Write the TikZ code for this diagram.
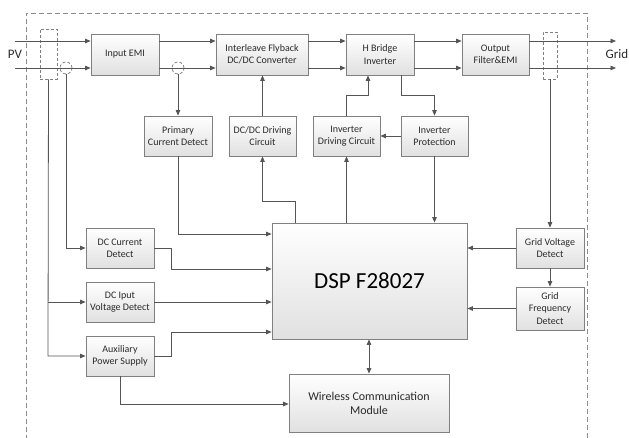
\documentclass[tikz,border=0pt]{standalone}
\usepackage{fontspec}
\setmainfont{Carlito}
\usetikzlibrary{arrows.meta}
\definecolor{ln}{HTML}{555555}
\definecolor{bd}{HTML}{808080}
\definecolor{tx}{HTML}{2A2A2A}
\tikzset{
  blk/.style={draw=bd, line width=0.8pt, top color=white, bottom color=black!12,
    align=center, inner sep=1pt, font=\fontsize{10}{12.3}\selectfont, text=tx},
  arr/.style={draw=ln, line width=0.8pt, -{Triangle[length=5.5pt,width=4.5pt]}},
  ln/.style={draw=ln, line width=0.8pt},
  dbarr/.style={draw=ln, line width=0.8pt, {Triangle[length=5.5pt,width=4.5pt]}-{Triangle[length=5.5pt,width=4.5pt]}},
  sens/.style={draw=bd, line width=0.8pt, dash pattern=on 3pt off 2pt},
}
\begin{document}
\begin{tikzpicture}[x=1pt,y=-1pt]
\useasboundingbox (0,0) rectangle (629,438);
% outer dashed frame
\draw[draw=black!45, line width=0.8pt, dash pattern=on 5pt off 3pt] (26,440) -- (26,13) -- (587,13) -- (587,440);

% blocks
\node[blk, minimum width=68pt, minimum height=41pt] (iemi) at (125,54.5) {Input EMI};
\node[blk, minimum width=92pt, minimum height=41pt] (flyb) at (262,54.5) {Interleave Flyback\\DC/DC Converter};
\node[blk, minimum width=68pt, minimum height=41pt] (hbr) at (380,54.5) {H Bridge\\Inverter};
\node[blk, minimum width=67pt, minimum height=41pt] (ofil) at (495.5,54.5) {Output\\Filter\&EMI};
\node[blk, minimum width=68pt, minimum height=40pt] (pcd) at (178,136) {Primary\\Current Detect};
\node[blk, minimum width=67pt, minimum height=40pt] (ddc) at (262.5,136) {DC/DC Driving\\Circuit};
\node[blk, minimum width=67pt, minimum height=40pt] (idc) at (346.5,136) {Inverter\\Driving Circuit};
\node[blk, minimum width=67pt, minimum height=40pt] (iprot) at (434.5,136) {Inverter\\Protection};
\node[blk, minimum width=195pt, minimum height=116pt, font=\fontsize{23}{27}\selectfont, text=black] (dsp) at (369.5,281) {DSP F28027};
\node[blk, minimum width=68pt, minimum height=40pt] (gvd) at (550,248) {Grid Voltage\\Detect};
\node[blk, minimum width=68pt, minimum height=43pt] (gfd) at (550,308.5) {Grid\\Frequency\\Detect};
\node[blk, minimum width=68pt, minimum height=40pt] (dccd) at (120,248) {DC Current\\Detect};
\node[blk, minimum width=68pt, minimum height=40pt] (dcvd) at (120,302) {DC Iput\\Voltage Detect};
\node[blk, minimum width=68pt, minimum height=40pt] (aux) at (120,356) {Auxiliary\\Power Supply};
\node[blk, minimum width=160pt, minimum height=58pt, font=\fontsize{12}{14}\selectfont] (wcm) at (369,403) {Wireless Communication\\Module};

% labels
\node[font=\fontsize{13}{15}\selectfont, text=tx, inner sep=0pt] (pv) at (15,54) {PV};
\node[font=\fontsize{13}{15}\selectfont, text=tx, inner sep=0pt] (grid) at (617,54) {Grid};

% coordinates
\coordinate (pvA) at (15,41);
\coordinate (pvB) at (15,68);
\coordinate (gA) at (616,41);
\coordinate (gB) at (616,68);
\coordinate (c1) at (66,68);
\coordinate (c2) at (178,68);

% sensors
\node[sens, minimum width=17pt, minimum height=50pt, inner sep=0pt] (sL) at (48.5,54) {};
\node[sens, minimum width=14pt, minimum height=47pt, inner sep=0pt] (sR) at (550,55.5) {};
\node[sens, circle, minimum size=12pt, inner sep=0pt] (cc1) at (c1) {};
\node[sens, circle, minimum size=12pt, inner sep=0pt] (cc2) at (c2) {};

% main power path
\draw[arr] (pvA) -- (iemi.west |- pvA);
\draw[arr] (pvB) -- (iemi.west |- pvB);
\draw[arr] (iemi.east |- pvA) -- (flyb.west |- pvA);
\draw[arr] (iemi.east |- pvB) -- (flyb.west |- pvB);
\draw[arr] (flyb.east |- pvA) -- (hbr.west |- pvA);
\draw[arr] (flyb.east |- pvB) -- (hbr.west |- pvB);
\draw[arr] (hbr.east |- pvA) -- (ofil.west |- pvA);
\draw[arr] (hbr.east |- pvB) -- (ofil.west |- pvB);
\draw[arr] (ofil.east |- gA) -- (gA);
\draw[arr] (ofil.east |- gB) -- (gB);

% upper control
\draw[arr] (cc2.south) -- (pcd.north);
\draw[arr] (ddc.north) -- (flyb.south -| ddc.north);
\draw[arr] (idc.north) -- (idc.north |- 0,95) -- (368,95) -- (hbr.south -| 368,0);
\draw[arr] (hbr.south -| 401,0) -- (401,95) -- (iprot.north |- 0,95) -- (iprot.north);
\draw[arr] (iprot.west) -- (idc.east);
\draw[arr] (pcd.south) -- (178,234) -- (dsp.west |- 0,234);
\draw[arr] (dsp.north -| 295,0) -- (295,201) -- (ddc.south |- 0,201) -- (ddc.south);
\draw[arr] (dsp.north -| idc.south) -- (idc.south);
\draw[arr] (iprot.south) -- (dsp.north -| iprot.south);

% right side
\draw[arr] (sR.south) -- (gvd.north);
\draw[arr] (gvd.west) -- (dsp.east |- gvd.west);
\draw[arr] (gvd.south) -- (gfd.north);
\draw[arr] (gfd.west) -- (dsp.east |- gfd.west);
\draw[dbarr] (dsp.south -| wcm.north) -- (wcm.north);

% left side
\draw[arr] (sL.south) -- (48,356) -- (aux.west);
\draw[arr] (48,302) -- (dcvd.west);
\draw[arr] (cc1.south) -- (66,248) -- (dccd.west);
\draw[arr] (dccd.east) -- (171,248) -- (171,269) -- (dsp.west |- 0,269);
\draw[arr] (dcvd.east) -- (dsp.west |- dcvd.east);
\draw[arr] (aux.east) -- (171,356) -- (171,332) -- (dsp.west |- 0,332);
\draw[arr] (aux.south) -- (120,404) -- (wcm.west |- 0,404);
\end{tikzpicture}
\end{document}
